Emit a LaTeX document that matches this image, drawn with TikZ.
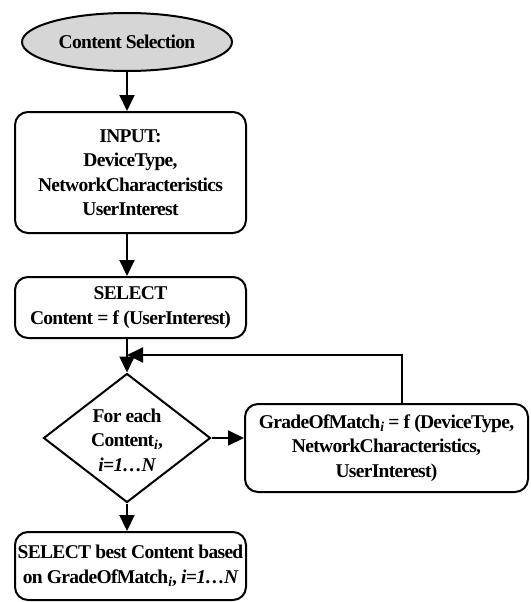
\documentclass[tikz,border=0pt]{standalone}
\usepackage{fontspec}
\setmainfont{Liberation Serif}[LetterSpace=-3.5]
\usetikzlibrary{shapes.geometric,arrows.meta}
\begin{document}
\begin{tikzpicture}[x=1pt,y=-1pt,
  every node/.style={font=\fontsize{19.5}{24.5}\selectfont\bfseries, align=center},
  flow/.style={line width=2pt},
  arr/.style={flow, -{Triangle[length=16pt,width=15pt]}},
  procbox/.style={draw, line width=2pt, rounded corners=13pt, inner sep=0pt},
  startell/.style={draw, ellipse, line width=2pt, fill=black!16, inner sep=0pt},
  decbox/.style={draw, diamond, line width=2pt, inner sep=0pt}
]
\useasboundingbox (0,0) rectangle (530,602);
\node[startell, minimum width=210pt, minimum height=58pt] (start) at (127,42) {Content Selection};
\node[procbox, minimum width=231pt, minimum height=121pt] (input) at (130.5,172.5)
  {INPUT:\\DeviceType,\\NetworkCharacteristics\\UserInterest};
\node[procbox, minimum width=231pt, minimum height=61pt] (sel) at (130.5,307.5)
  {SELECT\\Content = f (UserInterest)};
\node[decbox, minimum width=167pt, minimum height=129pt] (dec) at (127,438) {};
\node (dectext) at (127,440) {For each\\Content\textsubscript{\textit{i}},\\\textit{i=1…N}};
\node[procbox, minimum width=283pt, minimum height=88pt] (grade) at (386.5,448)
  {GradeOfMatch\textsubscript{\textit{i}} = f (DeviceType,\\NetworkCharacteristics,\\UserInterest)};
\node[procbox, minimum width=231pt, minimum height=68pt] (best) at (130.5,566)
  {SELECT best Content based\\on GradeOfMatch\textsubscript{\textit{i}}, \textit{i=1…N}};
\coordinate (fb) at (402,355);
\coordinate (join) at (127,355);
\draw[arr] (start.south) -- (start.south |- input.north);
\draw[arr] (start.south |- input.south) -- (start.south |- sel.north);
\draw[flow] (start.south |- sel.south) -- (join);
\draw[arr] (join) -- (dec.north);
\draw[arr] (grade.north -| fb) -- (fb) -- (join);
\draw[arr] (dec.east) -- (dec.east -| grade.west);
\draw[arr] (dec.south) -- (dec.south |- best.north);
\end{tikzpicture}
\end{document}
